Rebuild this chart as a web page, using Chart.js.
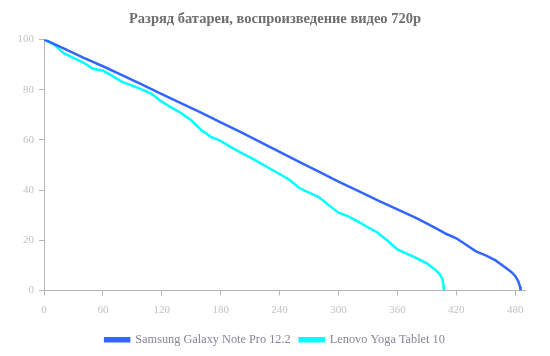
<!DOCTYPE html>
<html>
<head>
<meta charset="utf-8">
<script src="https://cdn.jsdelivr.net/npm/chart.js@4.4.0/dist/chart.umd.min.js"></script>
<style>
html,body{margin:0;padding:0;background:#fff;}
#wrap{width:550px;height:356px;position:relative;}
</style>
</head>
<body>
<div id="wrap"><canvas id="c" width="550" height="356"></canvas></div>
<script>
const chartTitle = "Разряд батареи, воспроизведение видео 720р";
const seriesNames = ["Samsung Galaxy Note Pro 12.2", "Lenovo Yoga Tablet 10"];
const xTickLabels = [0, 60, 120, 180, 240, 300, 360, 420, 480];
const yTickLabels = [0, 20, 40, 60, 80, 100];

const samsungMinutes = [0, 20, 40, 60, 80, 100, 120, 140, 160, 180, 200, 220, 240, 260, 280, 300, 320, 340, 360, 380, 400, 410, 420, 430, 440, 450, 460, 470, 476, 480, 483, 485, 485.5];
const samsungCharge  = [100, 96.4, 92.7, 89.3, 85.7, 82.0, 78.2, 74.5, 70.8, 67.0, 63.2, 59.2, 55.2, 51.2, 47.3, 43.4, 39.7, 35.9, 32.3, 28.7, 24.6, 22.5, 20.8, 18.2, 15.6, 14.0, 12.0, 9.2, 7.4, 5.8, 3.8, 1.5, 0];

const lenovoMinutes = [0, 10, 20, 30, 40, 50, 55, 60, 70, 80, 90, 100, 110, 120, 130, 140, 150, 160, 170, 180, 190, 200, 210, 220, 230, 240, 250, 260, 270, 280, 290, 300, 310, 320, 330, 340, 350, 360, 370, 380, 390, 398, 403, 406, 407, 407.3];
const lenovoCharge  = [100, 98, 94.5, 92.6, 90.8, 88.3, 87.9, 87.6, 85.4, 83.0, 81.6, 80.0, 78.2, 75.2, 72.8, 70.6, 67.8, 64.0, 61.2, 59.6, 57.2, 55.0, 53.0, 50.8, 48.6, 46.4, 44.1, 40.8, 39.0, 37.2, 34.0, 31.0, 29.5, 27.4, 25.2, 23.0, 19.8, 16.4, 14.6, 12.8, 10.8, 8.5, 6.5, 4.5, 2.0, 0];

const toPoints = (xs, ys) => xs.map((x, i) => ({x: x, y: ys[i]}));

const FONT = "'Liberation Serif', 'DejaVu Serif', serif";

new Chart(document.getElementById('c'), {
  type: 'line',
  data: {
    datasets: [
      {label: seriesNames[0], data: toPoints(samsungMinutes, samsungCharge), borderColor: '#3366ff', backgroundColor: '#3366ff', borderWidth: 2.5, pointRadius: 0, tension: 0},
      {label: seriesNames[1], data: toPoints(lenovoMinutes, lenovoCharge), borderColor: '#00ffff', backgroundColor: '#00ffff', borderWidth: 2.5, pointRadius: 0, tension: 0}
    ]
  },
  options: {
    responsive: false,
    animation: false,
    layout: {padding: {left: 0, right: 0, top: 0, bottom: 0}},
    plugins: {
      title: {display: true, text: chartTitle, color: '#6e6e6e', font: {family: FONT, size: 14.5, weight: 'bold'}, padding: {top: 11, bottom: 11}},
      legend: {position: 'bottom', labels: {color: '#85859a', font: {family: FONT, size: 12.3}, boxWidth: 24, boxHeight: 3, padding: 9}},
      tooltip: {enabled: false}
    },
    scales: {
      x: {
        type: 'linear', min: 0, max: 490,
        border: {color: '#b5b5b5', width: 1},
        grid: {display: true, drawOnChartArea: false, drawTicks: true, tickLength: 5, color: '#b5b5b5'},
        afterBuildTicks: (s) => { s.ticks = xTickLabels.map(v => ({value: v})); },
        afterFit: (s) => { s.paddingRight = 25; },
        ticks: {color: '#c2c2c8', font: {family: FONT, size: 11}, padding: 8, maxRotation: 0}
      },
      y: {
        min: 0, max: 100,
        border: {color: '#b5b5b5', width: 1},
        grid: {display: true, drawOnChartArea: false, drawTicks: true, tickLength: 5, color: '#b5b5b5'},
        afterBuildTicks: (s) => { s.ticks = yTickLabels.map(v => ({value: v})); },
        afterFit: (s) => { s.width = 44; },
        ticks: {color: '#c2c2c8', font: {family: FONT, size: 11}, padding: 5}
      }
    }
  }
});
</script>
</body>
</html>
